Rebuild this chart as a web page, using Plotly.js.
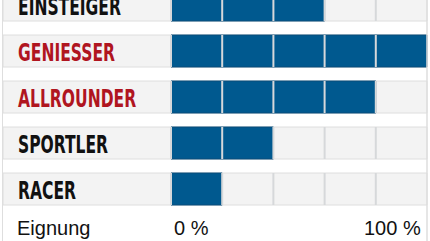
<!DOCTYPE html>
<html><head><meta charset="utf-8">
<script src="https://cdn.plot.ly/plotly-3.0.1.min.js"></script>
<style>html,body{margin:0;padding:0;background:#fff;overflow:hidden}#chart{width:430px;height:241px}</style>
</head><body><div id="chart"></div>
<script>
// ---- data ----
const categories = ["EINSTEIGER", "GENIESSER", "ALLROUNDER", "SPORTLER", "RACER"];
const suitability = [60, 100, 80, 40, 20];           // percent
const highlighted = ["GENIESSER", "ALLROUNDER"];      // shown in red
const scaleTicks = [0, 100];
const scaleTickLabels = ["0 %", "100 %"];
const scaleTitle = "Eignung";
const cellSteps = [0, 20, 40, 60, 80];

// ---- geometry / style ----
const W = 430, H = 241;
const pxPerUnit = 2.56, zeroPx = 171;
const xmin = -zeroPx / pxPerUnit, xmax = (W - zeroPx) / pxPerUnit;
const rowPitch = 46, firstRowPx = 5;
const yTop = -firstRowPx / rowPitch, yBottom = (H - firstRowPx) / rowPitch;
const bandW = 32 / rowPitch;
const labelStart = (3 - zeroPx) / pxPerUnit;
const labelX = (15.5 - zeroPx) / pxPerUnit;
const BLUE = "#00598f", GREY = "#f3f3f3", LINE = "#dedede", RED = "#b0151f", INK = "#111111";
const condensed = "'DejaVu Sans Condensed', 'Liberation Sans Narrow', sans-serif";
const regular = "'Liberation Sans', Arial, sans-serif";
const LABEL_SQUEEZE = 0.72;

const traces = [
  {
    type: "bar", orientation: "h", y: categories,
    x: categories.map(() => 100 - labelStart), base: labelStart,
    width: bandW, marker: {color: GREY, line: {color: LINE, width: 1}},
    hoverinfo: "skip"
  },
  {
    type: "bar", orientation: "h", y: categories,
    x: suitability, base: 0,
    width: bandW, marker: {color: BLUE, line: {color: "#0a4c78", width: 1}},
    hoverinfo: "skip"
  }
];

const shapes = [];
categories.forEach((c, i) => {
  cellSteps.forEach(s => {
    shapes.push({type: "line", xref: "x", yref: "y", x0: s, x1: s,
      y0: i - bandW / 2, y1: i + bandW / 2, line: {color: "#d6d8da", width: 2}, layer: "above"});
  });
});
// frame lines
shapes.push({type: "line", xref: "paper", yref: "paper", x0: 2.5 / W, x1: 2.5 / W, y0: 0, y1: 1, line: {color: LINE, width: 1}});
shapes.push({type: "line", xref: "x", yref: "paper", x0: 100, x1: 100, y0: 0, y1: 1, line: {color: LINE, width: 1.5}});

const annotations = categories.map((c, i) => ({
  x: labelX, y: i, xref: "x", yref: "y", text: c, showarrow: false,
  xanchor: "left", yanchor: "middle", yshift: -2,
  font: {family: condensed, size: 24, weight: 700, color: highlighted.includes(c) ? RED : INK}
}));
const bottomY = (228 - firstRowPx) / rowPitch;
annotations.push({x: labelX, y: bottomY, xref: "x", yref: "y", text: scaleTitle, showarrow: false,
  xanchor: "left", yanchor: "middle", xshift: -1, font: {family: regular, size: 20, color: INK}});
annotations.push({x: scaleTicks[0], y: bottomY, xref: "x", yref: "y", text: scaleTickLabels[0], showarrow: false,
  xanchor: "left", yanchor: "middle", xshift: 1, font: {family: regular, size: 20, color: INK}});
annotations.push({x: scaleTicks[1], y: bottomY, xref: "x", yref: "y", text: scaleTickLabels[1], showarrow: false,
  xanchor: "right", yanchor: "middle", xshift: -4, font: {family: regular, size: 20, color: INK}});

const layout = {
  width: W, height: H, margin: {l: 0, r: 0, t: 0, b: 0},
  paper_bgcolor: "#ffffff", plot_bgcolor: "#ffffff",
  barmode: "overlay", showlegend: false,
  xaxis: {range: [xmin, xmax], visible: false, fixedrange: true},
  yaxis: {type: "category", categoryarray: categories, range: [yBottom, yTop], visible: false, fixedrange: true},
  shapes: shapes, annotations: annotations
};
Plotly.newPlot("chart", traces, layout, {staticPlot: true, displayModeBar: false}).then(gd => {
  // the reference uses a tall, condensed bold face: narrow the category labels horizontally
  gd.querySelectorAll("text.annotation-text").forEach(t => {
    if (categories.includes(t.textContent)) {
      t.style.transformBox = "fill-box";
      t.style.transformOrigin = "left center";
      t.style.transform = "scaleX(" + LABEL_SQUEEZE + ")";
    }
  });
});
</script></body></html>
